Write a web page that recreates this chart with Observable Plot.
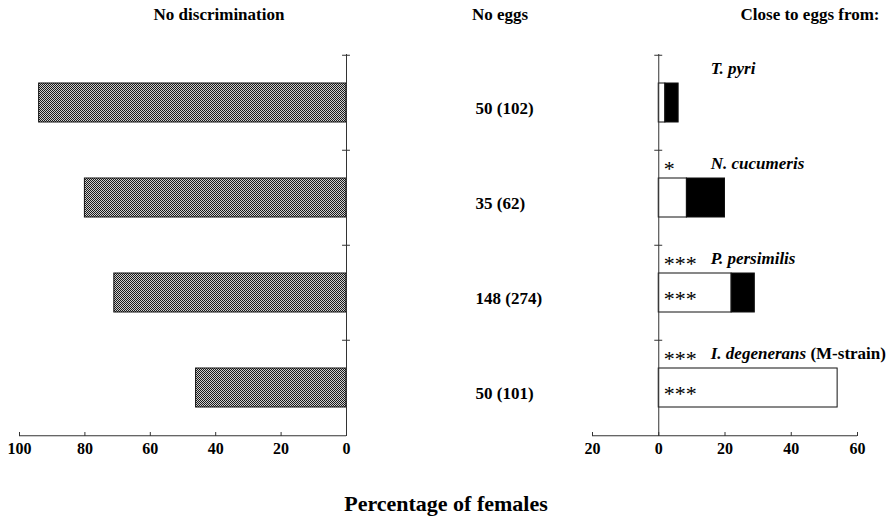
<!DOCTYPE html>
<html><head><meta charset="utf-8">
<script src="https://cdn.jsdelivr.net/npm/d3@7"></script>
<script src="https://cdn.jsdelivr.net/npm/@observablehq/plot@0.6"></script>
<style>
body{margin:0;background:#fff;}
#wrap{position:relative;width:891px;height:516px;font-family:"Liberation Serif","Times New Roman",serif;color:#000;overflow:hidden;background:#fff}
.t{position:absolute;font-weight:bold;white-space:nowrap;transform:translate(-50%,-50%)}
#left,#right{position:absolute;top:0}
#left{left:0}
#right{left:560px}
</style></head><body>
<div id="wrap">
  <div class="t" style="left:219px;top:15px;font-size:17px">No discrimination</div>
  <div class="t" style="left:500px;top:15px;font-size:17px">No eggs</div>
  <div class="t" style="left:810px;top:15px;font-size:17px">Close to eggs from:</div>
  <div class="t" style="left:446px;top:504px;font-size:22px">Percentage of females</div>
  <div id="left"></div>
  <div id="right"></div>
</div>
<script>
// ---- data ----
const categories = ["T. pyri", "N. cucumeris", "P. persimilis", "I. degenerans"];
const suffixes = ["", "", "", "(M-strain)"];
const noDiscrimination = [94, 80, 71, 46];
const noEggsLabels = ["50 (102)", "35 (62)", "148 (274)", "50 (101)"];
const closeWhite = [2, 8.5, 22, 54];
const closeBlack = [4, 11.5, 7, 0];
const sigAbove = ["", "*", "***", "***"];
const sigInside = ["", "", "***", "***"];
const leftTicks = [100, 80, 60, 40, 20, 0];
const rightTicks = [-20, 0, 20, 40, 60];

// ---- layout ----
const font = "'Liberation Serif', 'Times New Roman', serif";
const H = 476, MT = 54, MB = 40;
const step = (H - MT - MB) / categories.length;
const yScale = {domain: categories, paddingInner: 0.59, paddingOuter: 0.295, axis: null};
const axisColor = "#333";

const rows = categories.map((c, i) => ({
  species: c, suffix: suffixes[i], noDisc: noDiscrimination[i], noEggs: noEggsLabels[i],
  sigAbove: sigAbove[i], sigInside: sigInside[i]
}));
const stackRows = categories.flatMap((c, i) => [
  {species: c, part: "white", value: closeWhite[i]},
  {species: c, part: "black", value: closeBlack[i]}
]).filter(d => d.value > 0);

const baseStyle = {fontFamily: font, fontSize: "15px", fontWeight: "bold", background: "transparent", overflow: "visible", color: "#000"};

const left = Plot.plot({
  width: 560, height: H, marginTop: MT, marginBottom: MB, marginLeft: 19, marginRight: 214,
  style: baseStyle,
  x: {domain: [100, 0], label: null, axis: null},
  y: yScale,
  marks: [
    Plot.axisX(leftTicks, {tickSize: -4, tickPadding: 10, stroke: axisColor, fontSize: 16, fontWeight: "bold", label: null}),
    Plot.barX(rows, {x: "noDisc", y: "species", fill: "url(#chk)", stroke: "#111", strokeWidth: 1}),
    Plot.ruleX([0], {stroke: axisColor}),
    Plot.ruleY(rows, {y: "species", dy: -step / 2, x1: 1.2, x2: -1.2, stroke: axisColor}),
    Plot.ruleY([categories[categories.length - 1]], {y: d => d, dy: step / 2, x1: 100, x2: 0, stroke: axisColor}),
    Plot.text(rows, {y: "species", text: "noEggs", frameAnchor: "right", dx: 129, dy: 6, textAnchor: "start", fontSize: 17, fontWeight: "bold"})
  ]
});
d3.select(left).insert("defs", ":first-child").html(
  '<pattern id="chk" width="4" height="4" patternUnits="userSpaceOnUse">' +
  '<rect width="4" height="4" fill="#cfcfcf"/>' +
  '<rect x="0" y="0" width="1" height="1" fill="#1a1a1a"/><rect x="2" y="0" width="1" height="1" fill="#1a1a1a"/>' +
  '<rect x="1" y="1" width="1" height="1" fill="#1a1a1a"/><rect x="3" y="1" width="1" height="1" fill="#1a1a1a"/>' +
  '<rect x="0" y="2" width="1" height="1" fill="#1a1a1a"/><rect x="2" y="2" width="1" height="1" fill="#1a1a1a"/>' +
  '<rect x="1" y="3" width="1" height="1" fill="#1a1a1a"/><rect x="3" y="3" width="1" height="1" fill="#1a1a1a"/>' +
  '</pattern>');
document.getElementById("left").append(left);

const right = Plot.plot({
  width: 331, height: H, marginTop: MT, marginBottom: MB, marginLeft: 32, marginRight: 34,
  style: baseStyle,
  x: {domain: [-20, 60], label: null, axis: null},
  y: yScale,
  color: {domain: ["white", "black"], range: ["#fff", "#000"]},
  marks: [
    Plot.axisX(rightTicks, {tickSize: -4, tickPadding: 10, tickFormat: d => Math.abs(d), stroke: axisColor, fontSize: 16, fontWeight: "bold", label: null}),
    Plot.barX(stackRows, {x: "value", y: "species", fill: "part", stroke: "#111", strokeWidth: 1}),
    Plot.ruleX([0], {stroke: axisColor}),
    Plot.ruleY(rows, {y: "species", dy: -step / 2, x1: -1.2, x2: 1.2, stroke: axisColor}),
    Plot.ruleY([categories[categories.length - 1]], {y: d => d, dy: step / 2, x1: -20, x2: 60, stroke: axisColor}),
    Plot.text(rows, {x: d => 0, y: "species", text: "species", dx: 52, dy: -34, textAnchor: "start", fontSize: 17, fontWeight: "bold", fontStyle: "italic", className: "species"}),
    Plot.text(rows, {x: d => 0, y: "species", text: "sigAbove", dx: 5, dy: -29, textAnchor: "start", fontSize: 22, fontWeight: "normal"}),
    Plot.text(rows, {x: d => 0, y: "species", text: "sigInside", dx: 5, dy: 6, textAnchor: "start", fontSize: 22, fontWeight: "normal"})
  ]
});
d3.select(right).selectAll("g.species text").each(function() {
  const i = d3.select(this).datum();
  const r = rows[i];
  if (r && r.suffix) {
    d3.select(this).append("tspan").attr("font-style", "normal").text(" " + r.suffix);
  }
});
document.getElementById("right").append(right);
</script>
</body></html>
